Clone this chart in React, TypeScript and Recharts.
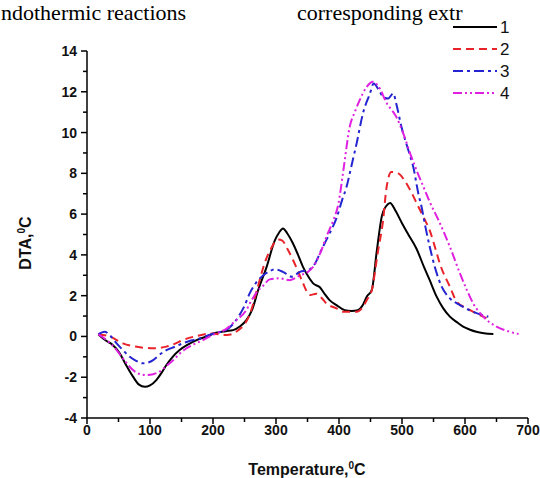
import { LineChart, Line, XAxis, YAxis } from 'recharts';

// Temperature (°C) and DTA (°C) readings for each sample
const temp1 = [18, 30, 40, 52, 62, 73, 82, 92, 100, 110, 118, 126, 136, 147, 160, 174, 190, 205, 220, 232, 243, 253, 262, 272, 285, 298, 305, 311, 318, 327, 335, 343, 351, 359, 370, 378, 385, 396, 409, 420, 430, 437, 444, 452, 460, 468, 475, 481, 490, 500, 510, 523, 535, 544, 555, 565, 576, 587, 597, 608, 618, 630, 645];
const dta1 = [0.1, -0.2, -0.4, -0.83, -1.4, -1.97, -2.35, -2.47, -2.4, -2.14, -1.8, -1.4, -1.0, -0.67, -0.4, -0.18, 0.0, 0.18, 0.26, 0.31, 0.5, 0.8, 1.3, 2.3, 3.4, 4.7, 5.1, 5.3, 5.05, 4.56, 4.0, 3.4, 2.95, 2.6, 2.4, 2.05, 1.78, 1.54, 1.29, 1.25, 1.29, 1.5, 1.95, 2.27, 4.2, 5.9, 6.4, 6.55, 6.15, 5.55, 5.0, 4.3, 3.4, 2.76, 1.95, 1.4, 0.97, 0.7, 0.48, 0.33, 0.23, 0.16, 0.12];

const temp2 = [18, 36, 57, 84, 105, 126, 140, 152, 174, 200, 216, 228, 240, 250, 258, 270, 282, 292, 303, 310, 318, 327, 335, 343, 354, 364, 372, 380, 396, 407, 428, 437, 444, 452, 462, 470, 475, 483, 494, 503, 513, 526, 535, 544, 555, 560, 576, 587, 603, 618, 634];
const dta2 = [0.1, 0.0, -0.34, -0.53, -0.58, -0.5, -0.35, -0.18, 0.02, 0.15, 0.07, 0.1, 0.3, 0.6, 1.05, 2.3, 3.6, 4.3, 4.75, 4.7, 4.3, 3.75, 3.2, 2.6, 2.03, 2.1, 1.9, 1.62, 1.38, 1.21, 1.21, 1.4, 1.78, 2.27, 4.2, 5.7, 7.2, 8.07, 8.0, 7.7, 7.18, 6.36, 5.8, 5.2, 4.1, 3.58, 2.44, 1.7, 1.38, 1.13, 0.9];

const temp3 = [18, 28, 38, 47, 58, 68, 78, 89, 97, 105, 115, 126, 140, 152, 165, 179, 192, 205, 220, 230, 240, 250, 258, 270, 280, 290, 298, 311, 325, 338, 351, 362, 372, 385, 396, 405, 412, 420, 428, 438, 449, 455, 463, 470, 478, 486, 491, 499, 510, 518, 526, 531, 537, 544, 552, 563, 576, 592, 613, 637];
const dta3 = [0.1, 0.23, 0.0, -0.34, -0.7, -1.0, -1.2, -1.32, -1.28, -1.16, -0.9, -0.67, -0.5, -0.34, -0.2, -0.1, 0.05, 0.18, 0.3, 0.55, 0.95, 1.5, 2.1, 2.7, 3.0, 3.2, 3.29, 3.17, 2.93, 3.17, 3.25, 3.58, 4.24, 5.05, 5.8, 6.7, 7.34, 8.4, 9.47, 10.94, 11.9, 12.4, 12.1, 11.75, 11.67, 11.92, 11.4, 10.3, 9.14, 8.3, 7.0, 6.36, 5.4, 4.4, 3.42, 2.44, 1.87, 1.54, 1.21, 0.97];

const temp4 = [18, 30, 47, 60, 73, 84, 94, 105, 115, 126, 137, 147, 158, 170, 184, 195, 205, 220, 235, 253, 260, 270, 280, 290, 306, 322, 338, 351, 359, 370, 380, 391, 399, 407, 417, 425, 433, 444, 454, 462, 476, 491, 502, 513, 523, 534, 544, 558, 576, 592, 603, 613, 629, 650, 671, 685];
const dta4 = [0.1, -0.15, -0.67, -1.2, -1.65, -1.85, -1.89, -1.85, -1.73, -1.45, -1.16, -0.85, -0.58, -0.38, -0.18, 0.0, 0.15, 0.35, 0.75, 1.3, 1.7, 2.2, 2.5, 2.8, 2.85, 2.76, 3.0, 3.17, 3.42, 4.07, 4.89, 5.7, 6.5, 8.16, 10.28, 11.0, 11.6, 12.24, 12.49, 12.3, 11.43, 10.77, 9.96, 8.97, 8.16, 7.34, 6.6, 5.7, 4.4, 3.09, 2.27, 1.62, 0.97, 0.48, 0.23, 0.12];

const xTicks = [0, 50, 100, 150, 200, 250, 300, 350, 400, 450, 500, 550, 600, 650, 700];
const yTicks = [-4, -3, -2, -1, 0, 1, 2, 3, 4, 5, 6, 7, 8, 9, 10, 11, 12, 13, 14];

const series = [
    { name: '1', temps: temp1, values: dta1, color: '#000000', dash: undefined },
    { name: '2', temps: temp2, values: dta2, color: '#e8232a', dash: '8 5' },
    { name: '3', temps: temp3, values: dta3, color: '#2424d0', dash: '10 4 3 4' },
    { name: '4', temps: temp4, values: dta4, color: '#e020e0', dash: '9 3 2 3 2 3' },
];

const FONT = '"Liberation Sans", Arial, sans-serif';

function XTick({ x, y, payload }: any) {
    const major = payload.value % 100 === 0;
    return (
        <g>
            <line x1={x} y1={y} x2={x} y2={y + (major ? 6 : 4)} stroke="#000" strokeWidth={1.5} />
            {major && (
                <text x={x} y={y + 17} textAnchor="middle" fontFamily={FONT} fontWeight="bold" fontSize={14} fill="#111">
                    {payload.value}
                </text>
            )}
        </g>
    );
}

function YTick({ x, y, payload }: any) {
    const major = payload.value % 2 === 0;
    return (
        <g>
            <line x1={x} y1={y} x2={x - (major ? 6 : 4)} y2={y} stroke="#000" strokeWidth={1.5} />
            {major && (
                <text x={x - 10} y={y + 5} textAnchor="end" fontFamily={FONT} fontWeight="bold" fontSize={14} fill="#111">
                    {payload.value}
                </text>
            )}
        </g>
    );
}

export default function App() {
    return (
        <div style={{ position: 'fixed', left: 0, top: 0, width: 540, height: 478, background: '#fff', overflow: 'hidden' }}>
            <LineChart width={540} height={478} margin={{ top: 51, right: 12, left: 27, bottom: 30 }}>
                <XAxis
                    type="number"
                    dataKey="t"
                    domain={[0, 700]}
                    ticks={xTicks}
                    interval={0}
                    tickSize={0}
                    tickMargin={0}
                    tick={<XTick />}
                    axisLine={{ stroke: '#000', strokeWidth: 1.5 }}
                    height={30}
                    allowDuplicatedCategory={false}
                />
                <YAxis
                    type="number"
                    domain={[-4, 14]}
                    ticks={yTicks}
                    interval={0}
                    tickSize={0}
                    tickMargin={0}
                    tick={<YTick />}
                    axisLine={{ stroke: '#000', strokeWidth: 1.5 }}
                    width={60}
                />
                {series.map((s) => (
                    <Line
                        key={s.name}
                        data={s.temps.map((t, i) => ({ t, v: s.values[i] }))}
                        dataKey="v"
                        type="monotone"
                        stroke={s.color}
                        strokeWidth={2}
                        strokeDasharray={s.dash}
                        dot={false}
                        isAnimationActive={false}
                    />
                ))}
            </LineChart>
            <svg width={540} height={478} style={{ position: 'absolute', left: 0, top: 0, pointerEvents: 'none' }}>
                <text x={1} y={20} fontFamily='"Liberation Serif", serif' fontSize={22} fill="#000">ndothermic reactions</text>
                <text x={297} y={20} fontFamily='"Liberation Serif", serif' fontSize={22} fill="#000">corresponding extr</text>
                {series.map((s, i) => (
                    <g key={s.name}>
                        <line x1={453} y1={27 + i * 22} x2={497} y2={27 + i * 22} stroke={s.color} strokeWidth={2} strokeDasharray={s.dash} />
                        <text x={500} y={33 + i * 22} fontFamily={FONT} fontSize={17} fill="#111">{s.name}</text>
                    </g>
                ))}
                <text x={307} y={475} textAnchor="middle" fontFamily={FONT} fontWeight="bold" fontSize={16} fill="#111">
                    Temperature,<tspan dy={-6} fontSize={10}>0</tspan><tspan dy={6}>C</tspan>
                </text>
                <text transform="translate(31,243) rotate(-90)" textAnchor="middle" fontFamily={FONT} fontWeight="bold" fontSize={16} fill="#111">
                    DTA,<tspan dy={-6} fontSize={10}>0</tspan><tspan dy={6}>C</tspan>
                </text>
            </svg>
        </div>
    );
}
